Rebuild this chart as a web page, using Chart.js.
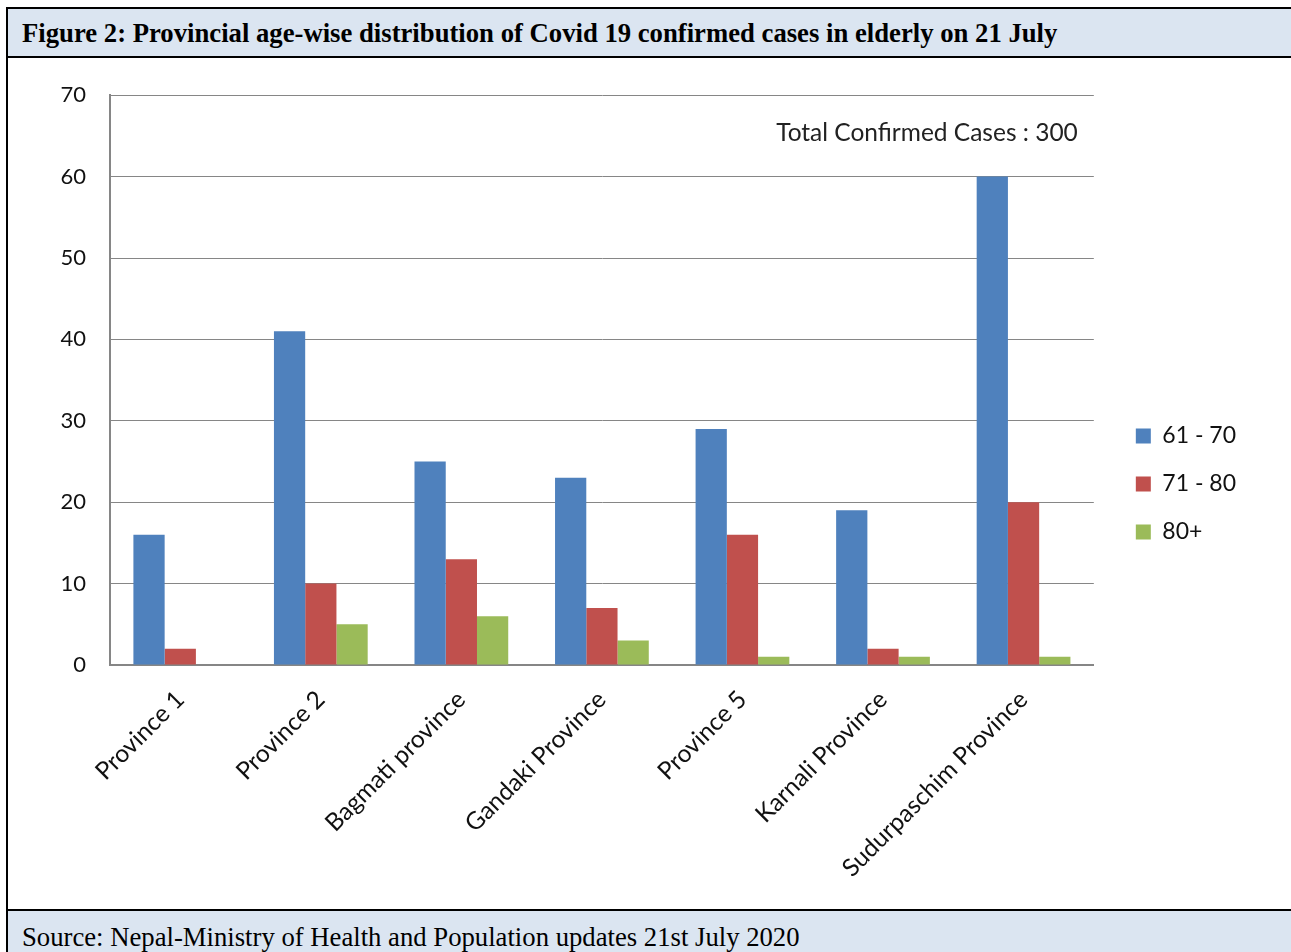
<!DOCTYPE html>
<html lang="en">
  <head>
    <meta charset="UTF-8" />
    <title>Figure 2: Provincial age-wise distribution</title>
    <style>
      body,
      html {
        margin: 0;
        width: 1291px;
        height: 952px;
        overflow: hidden;
        background: #fff;
      }
      .frame {
        position: absolute;
        left: 6px;
        top: 7px;
        width: 1300px;
        height: 960px;
        border: 2px solid #000;
        box-sizing: border-box;
      }
      .title {
        position: absolute;
        left: 8px;
        top: 9px;
        width: 1290px;
        height: 47px;
        background: #dbe5f1;
        border-bottom: 2px solid #000;
        font-family: "Liberation Serif", serif;
        font-weight: bold;
        font-size: 26.7px;
        line-height: 49px;
        padding-left: 14px;
        box-sizing: content-box;
        white-space: nowrap;
      }
      .chart-box {
        position: absolute;
        left: 8px;
        top: 58px;
        width: 1283px;
        height: 851px;
      }
      .footer {
        position: absolute;
        left: 8px;
        top: 909px;
        width: 1290px;
        height: 50px;
        background: #dbe5f1;
        border-top: 2px solid #000;
        font-family: "Liberation Serif", serif;
        font-size: 26.7px;
        line-height: 52px;
        padding-left: 14px;
        white-space: nowrap;
      }
    </style>
  </head>
  <body>
    <div class="frame"></div>
    <div class="title">Figure 2: Provincial age-wise distribution of Covid 19 confirmed cases in elderly on 21 July</div>
    <div class="chart-box">
      <canvas id="myChart" width="1283" height="851"></canvas>
    </div>
    <div class="footer">Source: Nepal-Ministry of Health and Population updates 21st July 2020</div>

    <script src="https://cdn.jsdelivr.net/npm/chart.js"></script>

    <script>
      // provinces (categories)
      const provinces = [
        "Province 1",
        "Province 2",
        "Bagmati province",
        "Gandaki Province",
        "Province 5",
        "Karnali Province",
        "Sudurpaschim Province",
      ];

      // cases by age group
      const age61to70 = [16, 41, 25, 23, 29, 19, 60];
      const age71to80 = [2, 10, 13, 7, 16, 2, 20];
      const age80plus = [0, 5, 6, 3, 1, 1, 1];

      const totalNote = "Total Confirmed Cases : 300";

      const font = "Lato, 'Noto Sans', sans-serif";
      const gridColor = "#868686";

      // note in the top right corner of the plot
      const notePlugin = {
        id: "note",
        afterDraw(chart) {
          const { ctx, chartArea } = chart;
          ctx.save();
          ctx.font = "24.5px " + font;
          ctx.fillStyle = "#222";
          ctx.textAlign = "right";
          ctx.textBaseline = "middle";
          ctx.fillText(totalNote, chartArea.right - 16, chartArea.top + 38);
          ctx.restore();
        },
      };

      // legend sits a little higher than the centre of its box
      const legendNudge = {
        id: "legendNudge",
        afterLayout(chart) {
          chart.legend.top -= 5;
          chart.legend.bottom -= 5;
        },
      };

      const ctx = document.getElementById("myChart").getContext("2d");

      const myChart = new Chart(ctx, {
        type: "bar",
        data: {
          labels: provinces,
          datasets: [
            { label: "61 - 70", data: age61to70, backgroundColor: "#4f81bd" },
            { label: "71 - 80", data: age71to80, backgroundColor: "#c0504d" },
            { label: "80+", data: age80plus, backgroundColor: "#9bbb59" },
          ],
        },
        options: {
          responsive: false,
          animation: false,
          layout: { padding: { top: 37, bottom: 26, right: 45 } },
          datasets: {
            bar: { categoryPercentage: 0.667, barPercentage: 1.0 },
          },
          plugins: {
            tooltip: { enabled: false },
            legend: {
              position: "right",
              labels: {
                boxWidth: 15,
                boxHeight: 15,
                padding: 25,
                color: "#111",
                font: { family: font, size: 23 },
              },
            },
          },
          scales: {
            x: {
              grid: { display: false, drawTicks: false },
              border: { color: gridColor, width: 2 },
              ticks: {
                minRotation: 45,
                maxRotation: 45,
                padding: 20,
                color: "#111",
                font: { family: font, size: 24.5 },
              },
              // room for the long rotated labels
              afterFit: (s) => {
                s.height = 218;
              },
            },
            y: {
              min: 0,
              max: 70,
              ticks: {
                stepSize: 10,
                padding: 24,
                color: "#111",
                font: { family: font, size: 22 },
              },
              grid: { color: gridColor, lineWidth: 1, drawTicks: false },
              border: { color: gridColor, width: 2 },
              afterFit: (s) => {
                s.width = 102;
              },
            },
            // spacer between plot and legend
            gap: {
              position: "right",
              display: true,
              grid: { display: false, drawTicks: false },
              border: { display: false },
              ticks: { display: false },
              afterFit: (s) => {
                s.width = 17;
              },
            },
          },
        },
        plugins: [notePlugin, legendNudge],
      });
    </script>
  </body>
</html>
